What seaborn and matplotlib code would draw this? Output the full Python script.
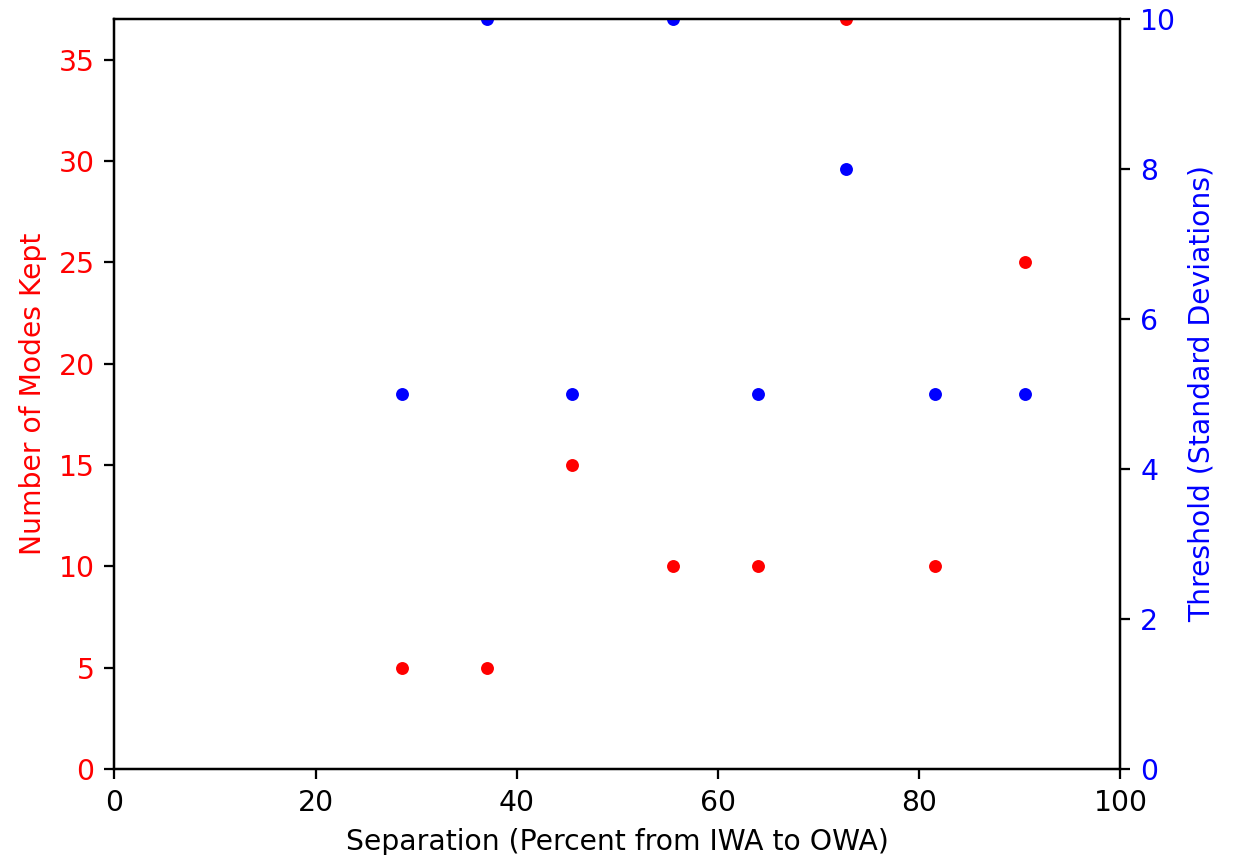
import numpy as np
import pandas as pd
import matplotlib
matplotlib.use('Agg')
import matplotlib.pyplot as plt
import seaborn as sns

# separation (percent from IWA to OWA) of each annulus
separation = [28.6, 37.0, 45.5, 55.5, 64.0, 72.7, 81.6, 90.5]
# number of KL modes kept, and detection threshold in standard deviations
modes_kept = [5, 5, 15, 10, 10, 37, 10, 25]
threshold = [5, 10, 5, 10, 5, 8, 5, 5]

df = pd.DataFrame({'Separation': separation, 'Modes': modes_kept, 'Threshold': threshold})

fig = plt.figure(figsize=(1235 / 203, 855 / 203), dpi=203)
ax1 = fig.add_axes([0.0926, 0.1006, 0.8146, 0.8772])

sns.scatterplot(data=df, x='Separation', y='Modes', color='r', s=21, linewidth=0, ax=ax1)
ax1.set_xlim(0, 100)
ax1.set_ylim(0, 37)
ax1.set_xlabel('Separation (Percent from IWA to OWA)')
ax1.set_ylabel('Number of Modes Kept', color='r')
ax1.tick_params(axis='y', labelcolor='r', color='k')

ax2 = ax1.twinx()
sns.scatterplot(data=df, x='Separation', y='Threshold', color='b', s=21, linewidth=0, ax=ax2)
ax2.set_ylim(0, 10)
ax2.set_ylabel('Threshold (Standard Deviations)', color='b')
ax2.tick_params(axis='y', labelcolor='b', color='k')
ax2.set_xlim(0, 100)

fig.savefig('out.png', dpi=203)
